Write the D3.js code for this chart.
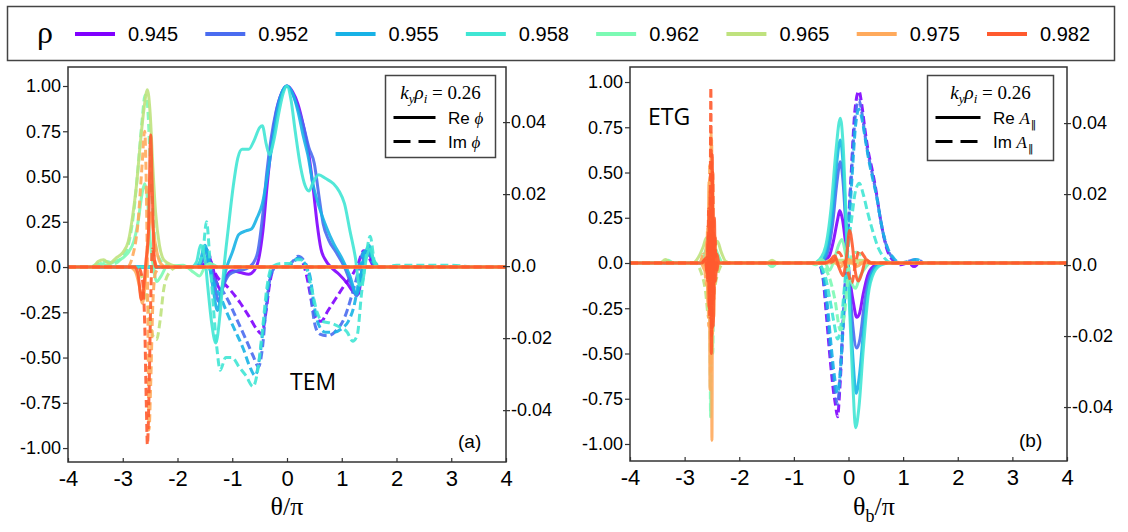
<!DOCTYPE html>
<html>
<head>
<meta charset="utf-8">
<script src="https://cdn.jsdelivr.net/npm/d3@7"></script>
<style>
  body { margin: 0; background: #fff; }
  svg { display: block; font-family: "Liberation Sans", Arial, sans-serif; }
</style>
</head>
<body>
<svg id="chart" width="1128" height="532"></svg>
<script>
// ---- data ----
var rhoLabels = ["0.945", "0.952", "0.955", "0.958", "0.962", "0.965", "0.975", "0.982"];
var rhoColors = ["#8000ff", "#4a6cf0", "#18b2e6", "#40e6d4", "#7cfab4", "#bfe27e", "#ffaa5c", "#ff5a2e"];

var xTicks = [-4, -3, -2, -1, 0, 1, 2, 3, 4];
var xTickLabels = ["-4", "-3", "-2", "-1", "0", "1", "2", "3", "4"];
var yTicksLeft = [-1, -0.75, -0.5, -0.25, 0, 0.25, 0.5, 0.75, 1];
var yTickLabelsLeft = ["-1.00", "-0.75", "-0.50", "-0.25", "0.0", "0.25", "0.50", "0.75", "1.00"];
var yTicksRight = [-0.04, -0.02, 0, 0.02, 0.04];
var yTickLabelsRight = ["-0.04", "-0.02", "0.0", "0.02", "0.04"];

// panel (a) TEM: [theta/pi, value]
var temRe945 = [[-4,0],[-1.6,0],[-1.5,0.01],[-1.43,0.06],[-1.36,0],[-1.28,-0.09],[-1.2,-0.13],[-1.12,-0.06],[-1.0,-0.02],[-0.85,-0.03],[-0.7,-0.04],[-0.6,-0.02],[-0.52,0.04],[-0.44,0.2],[-0.36,0.46],[-0.28,0.68],[-0.2,0.85],[-0.1,0.96],[0,1.0],[0.1,0.97],[0.2,0.9],[0.3,0.78],[0.4,0.62],[0.48,0.43],[0.55,0.24],[0.62,0.1],[0.7,0.04],[0.8,0],[0.95,-0.04],[1.1,-0.09],[1.22,-0.14],[1.3,-0.15],[1.37,-0.03],[1.44,0.08],[1.52,0.06],[1.6,0],[4,0]];
var temIm945 = [[-4,0],[-1.6,0],[-1.5,0.02],[-1.43,0.07],[-1.36,0],[-1.26,-0.06],[-1.15,-0.09],[-1.0,-0.14],[-0.85,-0.2],[-0.7,-0.27],[-0.56,-0.34],[-0.46,-0.37],[-0.39,-0.26],[-0.31,-0.08],[-0.22,0],[-0.05,0],[0.1,0.02],[0.2,0.05],[0.28,0.03],[0.36,-0.05],[0.45,-0.19],[0.54,-0.29],[0.62,-0.3],[0.75,-0.24],[0.9,-0.17],[1.05,-0.1],[1.2,-0.04],[1.3,0.02],[1.4,0.09],[1.5,0.05],[1.6,0],[4,0]];
var temRe952 = [[-4,0],[-1.65,0],[-1.55,0.03],[-1.48,0.1],[-1.4,0.02],[-1.32,-0.1],[-1.25,-0.19],[-1.17,-0.11],[-1.05,-0.04],[-0.9,-0.02],[-0.75,-0.01],[-0.62,0.02],[-0.53,0.09],[-0.45,0.27],[-0.37,0.52],[-0.29,0.71],[-0.2,0.86],[-0.1,0.96],[0,1.0],[0.1,0.96],[0.2,0.88],[0.3,0.78],[0.4,0.66],[0.5,0.57],[0.58,0.4],[0.66,0.24],[0.76,0.15],[0.9,0.08],[1.05,0],[1.18,-0.1],[1.27,-0.16],[1.35,-0.05],[1.42,0.08],[1.5,0.1],[1.58,0.03],[1.7,0],[4,0]];
var temIm952 = [[-4,0],[-1.65,0],[-1.55,0.03],[-1.47,0.1],[-1.4,0],[-1.3,-0.08],[-1.2,-0.12],[-1.05,-0.2],[-0.9,-0.3],[-0.75,-0.4],[-0.62,-0.49],[-0.52,-0.55],[-0.45,-0.45],[-0.38,-0.22],[-0.3,-0.05],[-0.2,0],[0,0],[0.1,0.03],[0.2,0.06],[0.3,0.04],[0.38,-0.02],[0.45,-0.2],[0.52,-0.33],[0.6,-0.37],[0.75,-0.38],[0.9,-0.35],[1.05,-0.28],[1.18,-0.16],[1.28,-0.05],[1.36,0.06],[1.45,0.1],[1.55,0.03],[1.7,0],[4,0]];
var temRe955 = [[-4,0],[-1.7,0],[-1.6,0.02],[-1.5,0.12],[-1.42,0.02],[-1.35,-0.12],[-1.27,-0.24],[-1.18,-0.1],[-1.1,0],[-1.0,0.08],[-0.88,0.18],[-0.75,0.2],[-0.65,0.21],[-0.55,0.27],[-0.45,0.35],[-0.35,0.52],[-0.25,0.72],[-0.15,0.9],[-0.07,0.98],[0,1.0],[0.1,0.96],[0.2,0.86],[0.3,0.72],[0.38,0.62],[0.48,0.45],[0.6,0.32],[0.72,0.22],[0.85,0.13],[1.0,0.05],[1.15,-0.05],[1.27,-0.15],[1.35,-0.05],[1.42,0.06],[1.5,0.12],[1.58,0.04],[1.7,0],[4,0]];
var temIm955 = [[-4,0],[-1.7,0],[-1.6,0.02],[-1.5,0.1],[-1.42,0],[-1.32,-0.1],[-1.22,-0.16],[-1.1,-0.25],[-0.95,-0.35],[-0.8,-0.45],[-0.68,-0.55],[-0.58,-0.6],[-0.5,-0.5],[-0.42,-0.3],[-0.33,-0.08],[-0.25,0],[0,0],[0.1,0.02],[0.2,0.05],[0.3,0.03],[0.42,-0.05],[0.5,-0.22],[0.58,-0.32],[0.7,-0.36],[0.85,-0.36],[1.0,-0.34],[1.12,-0.3],[1.22,-0.22],[1.32,-0.06],[1.4,0.08],[1.48,0.1],[1.58,0.02],[1.7,0],[4,0]];
var temRe958 = [[-4,0],[-1.75,0],[-1.65,0.03],[-1.58,0.12],[-1.5,0.05],[-1.45,-0.1],[-1.38,-0.3],[-1.3,-0.42],[-1.22,-0.25],[-1.15,0],[-1.07,0.22],[-0.98,0.45],[-0.9,0.6],[-0.82,0.65],[-0.7,0.65],[-0.6,0.7],[-0.5,0.77],[-0.45,0.78],[-0.38,0.68],[-0.32,0.62],[-0.24,0.7],[-0.15,0.85],[-0.07,0.96],[0,1.0],[0.07,0.93],[0.15,0.75],[0.25,0.55],[0.33,0.45],[0.4,0.42],[0.48,0.47],[0.58,0.51],[0.7,0.49],[0.85,0.46],[0.95,0.42],[1.05,0.35],[1.15,0.2],[1.25,0.05],[1.32,-0.1],[1.38,-0.08],[1.45,0.05],[1.52,0.1],[1.6,0.02],[1.7,0],[4,0]];
var temIm958 = [[-4,0],[-1.7,0],[-1.6,0.02],[-1.53,0.1],[-1.47,0.25],[-1.41,0.05],[-1.35,-0.2],[-1.28,-0.45],[-1.22,-0.57],[-1.12,-0.5],[-1.0,-0.5],[-0.88,-0.55],[-0.75,-0.6],[-0.62,-0.66],[-0.54,-0.58],[-0.45,-0.35],[-0.37,-0.12],[-0.28,0],[-0.1,0.02],[0.05,0.02],[0.15,0.04],[0.25,0.04],[0.35,0],[0.45,-0.12],[0.55,-0.25],[0.65,-0.3],[0.8,-0.31],[0.95,-0.33],[1.1,-0.36],[1.2,-0.41],[1.28,-0.38],[1.36,-0.15],[1.44,0.05],[1.52,0.17],[1.6,0.03],[1.75,0],[2.0,0.01],[2.5,0.01],[3.0,0.01],[3.5,0],[4,0]];
var temRe962 = [[-4,0],[-3.5,0],[-3.4,0.02],[-3.3,0.01],[-3.15,0.03],[-3.0,0.05],[-2.9,0.08],[-2.8,0.14],[-2.72,0.25],[-2.65,0.4],[-2.6,0.46],[-2.55,0.38],[-2.5,0.15],[-2.45,0.02],[-2.38,-0.08],[-2.3,-0.05],[-2.2,0],[-1.9,0.01],[-1.7,-0.03],[-1.6,-0.05],[-1.5,0],[-1.4,0.02],[-1.25,0],[4,0]];
var temIm962 = [[-4,0],[-3.6,0],[-3.45,0.02],[-3.3,0.03],[-3.15,0.02],[-3.0,0.06],[-2.9,0.12],[-2.8,0.3],[-2.72,0.55],[-2.65,0.8],[-2.59,0.95],[-2.55,0.9],[-2.5,0.6],[-2.45,0.3],[-2.4,0.12],[-2.32,0.04],[-2.2,0.01],[-2.0,0],[4,0]];
var temRe965 = [[-4,0],[-3.55,0],[-3.45,0.03],[-3.35,0.04],[-3.25,0.02],[-3.12,0.05],[-3.0,0.08],[-2.9,0.14],[-2.82,0.28],[-2.75,0.45],[-2.68,0.68],[-2.61,0.88],[-2.55,0.98],[-2.5,0.85],[-2.45,0.55],[-2.4,0.3],[-2.33,0.12],[-2.25,0.04],[-2.1,0.01],[-1.95,0],[4,0]];
var temIm965 = [[-4,0],[-2.8,0],[-2.7,-0.03],[-2.6,-0.1],[-2.52,-0.25],[-2.45,-0.38],[-2.38,-0.4],[-2.32,-0.3],[-2.25,-0.12],[-2.15,-0.03],[-2.0,0],[4,0]];
var temRe975 = [[-4,0],[-2.88,0],[-2.78,-0.02],[-2.7,-0.1],[-2.64,-0.2],[-2.6,-0.12],[-2.56,0.05],[-2.52,0.22],[-2.48,0.3],[-2.44,0.2],[-2.4,0.12],[-2.35,0.05],[-2.28,0.01],[-2.2,0],[4,0]];
var temIm975 = [[-4,0],[-2.92,0],[-2.82,0.06],[-2.72,0.25],[-2.65,0.55],[-2.6,0.75],[-2.57,0.45],[-2.54,-0.3],[-2.52,-0.9],[-2.49,-0.65],[-2.45,-0.2],[-2.4,-0.03],[-2.3,0],[4,0]];
var temRe982 = [[-4,0],[-2.78,0],[-2.72,-0.04],[-2.66,-0.18],[-2.62,-0.12],[-2.58,0.02],[-2.53,0.2],[-2.49,0.73],[-2.46,0.42],[-2.43,0.08],[-2.4,0],[4,0]];
var temIm982 = [[-4,0],[-2.72,0],[-2.65,-0.05],[-2.6,-0.3],[-2.57,-0.75],[-2.55,-0.98],[-2.52,-0.7],[-2.49,-0.2],[-2.46,0.1],[-2.42,0.04],[-2.38,0],[4,0]];

// panel (b) ETG
var etgRe945 = [[-4,0],[-0.6,0],[-0.45,0.01],[-0.35,0.04],[-0.27,0.13],[-0.2,0.24],[-0.16,0.29],[-0.11,0.24],[-0.05,0.1],[0.02,-0.08],[0.09,-0.22],[0.15,-0.3],[0.2,-0.28],[0.27,-0.17],[0.35,-0.07],[0.45,-0.02],[0.6,0],[4,0]];
var etgIm945 = [[-4,0],[-0.62,0],[-0.53,-0.01],[-0.46,-0.1],[-0.41,-0.27],[-0.33,-0.55],[-0.27,-0.72],[-0.24,-0.78],[-0.2,-0.85],[-0.16,-0.7],[-0.1,-0.35],[-0.03,0.05],[0.05,0.5],[0.12,0.85],[0.19,0.95],[0.25,0.86],[0.3,0.74],[0.36,0.62],[0.43,0.52],[0.51,0.39],[0.57,0.27],[0.63,0.17],[0.7,0.08],[0.8,0.02],[0.95,-0.01],[1.1,0],[1.2,-0.02],[1.3,0],[4,0]];
var etgRe952 = [[-4,0],[-0.6,0],[-0.48,0.01],[-0.38,0.06],[-0.29,0.22],[-0.21,0.45],[-0.15,0.56],[-0.1,0.45],[-0.04,0.15],[0.02,-0.12],[0.08,-0.35],[0.15,-0.47],[0.21,-0.42],[0.28,-0.25],[0.36,-0.1],[0.46,-0.03],[0.6,0],[4,0]];
var etgIm952 = [[-4,0],[-0.62,0],[-0.53,-0.01],[-0.46,-0.09],[-0.4,-0.25],[-0.33,-0.5],[-0.27,-0.66],[-0.2,-0.78],[-0.16,-0.65],[-0.1,-0.32],[-0.03,0.05],[0.05,0.47],[0.12,0.8],[0.19,0.9],[0.25,0.82],[0.3,0.71],[0.36,0.6],[0.43,0.5],[0.51,0.38],[0.57,0.27],[0.63,0.17],[0.7,0.09],[0.8,0.03],[0.95,0],[1.1,0.01],[1.25,0.02],[1.4,0],[4,0]];
var etgRe955 = [[-4,0],[-0.62,0],[-0.5,0.01],[-0.4,0.07],[-0.3,0.26],[-0.22,0.54],[-0.15,0.68],[-0.1,0.55],[-0.04,0.18],[0.02,-0.2],[0.08,-0.52],[0.14,-0.72],[0.2,-0.62],[0.28,-0.36],[0.37,-0.13],[0.48,-0.03],[0.62,0],[4,0]];
var etgIm955 = [[-4,0],[-0.6,0],[-0.52,-0.01],[-0.45,-0.08],[-0.39,-0.22],[-0.32,-0.45],[-0.26,-0.62],[-0.2,-0.72],[-0.15,-0.6],[-0.09,-0.3],[-0.02,0.05],[0.06,0.45],[0.13,0.76],[0.19,0.85],[0.25,0.79],[0.31,0.68],[0.37,0.57],[0.44,0.47],[0.52,0.36],[0.58,0.25],[0.64,0.16],[0.72,0.08],[0.82,0.03],[0.95,0],[1.1,0.01],[1.25,0.02],[1.4,0],[4,0]];
var etgRe958 = [[-4,0],[-0.65,0],[-0.53,0.02],[-0.42,0.09],[-0.32,0.3],[-0.23,0.62],[-0.15,0.8],[-0.1,0.66],[-0.04,0.22],[0.02,-0.26],[0.08,-0.67],[0.13,-0.91],[0.19,-0.8],[0.27,-0.48],[0.36,-0.18],[0.47,-0.05],[0.6,-0.01],[0.75,0],[4,0]];
var etgIm958 = [[-4,0],[-0.6,0],[-0.5,-0.02],[-0.42,-0.08],[-0.34,-0.2],[-0.26,-0.34],[-0.2,-0.42],[-0.14,-0.35],[-0.08,-0.15],[-0.02,0.05],[0.06,0.25],[0.13,0.4],[0.2,0.44],[0.27,0.38],[0.35,0.28],[0.45,0.17],[0.55,0.08],[0.65,0.03],[0.8,0],[4,0]];
var etgRe962 = [[-4,0],[-3.4,0],[-3.3,0.015],[-3.2,0],[-2.75,0],[-2.65,0.04],[-2.58,0.1],[-2.52,0.14],[-2.46,0.1],[-2.38,0.04],[-2.3,0],[-1.5,0],[-1.4,-0.02],[-1.3,0],[-0.7,0],[-0.6,-0.01],[-0.5,0.02],[-0.42,0],[-0.35,-0.04],[-0.26,0.02],[-0.18,0.1],[-0.12,0.13],[-0.06,0.06],[0,-0.05],[0.07,-0.12],[0.13,-0.14],[0.2,-0.08],[0.3,-0.03],[0.4,0],[4,0]];
var etgIm962 = [[-4,0],[-2.64,0],[-2.59,0.08],[-2.565,-0.2],[-2.545,0.32],[-2.525,-0.85],[-2.505,0.42],[-2.485,-0.5],[-2.465,0.12],[-2.44,-0.05],[-2.4,0],[-0.55,0],[-0.45,-0.02],[-0.35,-0.08],[-0.25,-0.2],[-0.15,-0.37],[-0.08,-0.3],[0,-0.05],[0.08,0.05],[0.15,0.06],[0.3,0.02],[0.45,0],[4,0]];
var etgRe965 = [[-4,0],[-3.45,0],[-3.35,0.02],[-3.25,0],[-2.85,0],[-2.75,0.03],[-2.66,0.09],[-2.6,0.14],[-2.55,0.1],[-2.5,-0.05],[-2.45,0.08],[-2.4,0.12],[-2.33,0.06],[-2.25,0.01],[-2.15,0],[-1.5,0],[-1.4,0.015],[-1.3,0],[-0.45,0],[-0.35,0.015],[-0.2,0.015],[0,0.015],[0.2,0.015],[0.35,0.01],[0.45,0],[4,0]];
var etgIm965 = [[-4,0],[-2.8,0],[-2.7,-0.05],[-2.62,-0.15],[-2.56,-0.3],[-2.5,-0.25],[-2.44,-0.12],[-2.36,-0.03],[-2.28,0],[4,0]];
var etgRe975 = [[-4,0],[-2.7,0],[-2.63,-0.04],[-2.595,0.12],[-2.575,-0.22],[-2.555,0.45],[-2.535,-0.7],[-2.515,0.72],[-2.5,-0.98],[-2.485,0.5],[-2.465,-0.3],[-2.445,0.15],[-2.42,-0.05],[-2.38,0],[-0.4,0],[-0.3,0.02],[-0.15,-0.02],[0,0.02],[0.15,-0.02],[0.3,0.01],[0.4,0],[4,0]];
var etgIm975 = [[-4,0],[-2.72,0],[-2.66,0.05],[-2.6,-0.12],[-2.58,0.2],[-2.56,-0.35],[-2.54,0.55],[-2.52,-0.6],[-2.505,0.68],[-2.49,-0.4],[-2.47,0.25],[-2.45,-0.12],[-2.42,0.04],[-2.38,0],[4,0]];
var etgRe982 = [[-4,0],[-2.7,0],[-2.62,0.02],[-2.59,-0.06],[-2.57,0.15],[-2.55,-0.25],[-2.53,0.4],[-2.51,-0.5],[-2.495,0.6],[-2.475,-0.35],[-2.455,0.25],[-2.435,-0.1],[-2.41,0.05],[-2.37,0],[-0.45,0],[-0.35,0.01],[-0.25,0.04],[-0.18,-0.02],[-0.1,-0.07],[-0.03,0.05],[0.02,0.18],[0.07,0.1],[0.12,-0.04],[0.18,-0.1],[0.25,-0.05],[0.32,0.02],[0.42,0],[4,0]];
var etgIm982 = [[-4,0],[-2.68,0],[-2.6,0.03],[-2.58,-0.1],[-2.56,0.3],[-2.54,-0.3],[-2.52,0.97],[-2.505,-0.4],[-2.485,0.5],[-2.465,-0.2],[-2.445,0.15],[-2.42,-0.05],[-2.38,0],[-0.35,0],[-0.25,0.02],[-0.18,0.06],[-0.1,0.02],[-0.02,-0.04],[0.06,-0.11],[0.13,0],[0.2,0.07],[0.28,0.04],[0.38,0],[4,0]];

// re/im pairs in rho order
var temCurves = [[temRe945, temIm945], [temRe952, temIm952], [temRe955, temIm955], [temRe958, temIm958],
                 [temRe962, temIm962], [temRe965, temIm965], [temRe975, temIm975], [temRe982, temIm982]];
var etgCurves = [[etgRe945, etgIm945], [etgRe952, etgIm952], [etgRe955, etgIm955], [etgRe958, etgIm958],
                 [etgRe962, etgIm962], [etgRe965, etgIm965], [etgRe975, etgIm975], [etgRe982, etgIm982]];

var svg = d3.select("#chart");

// ---- top legend ----
var legend = svg.append("g");
legend.append("rect")
    .attr("x", 7.5).attr("y", 6.5).attr("width", 1107).attr("height", 54)
    .attr("fill", "#fff").attr("stroke", "#444").attr("stroke-width", 1.5);
legend.append("text")
    .attr("x", 37).attr("y", 43)
    .style("font-family", "'Liberation Serif', serif").style("font-size", "32px")
    .text("ρ");

var legendX = d3.scalePoint().domain(rhoLabels).range([75, 987]);
var items = legend.selectAll(".item")
    .data(rhoLabels).enter()
    .append("g")
    .attr("transform", d => "translate(" + legendX(d) + ",34)");
items.append("line")
    .attr("x1", 0).attr("x2", 40)
    .attr("stroke", (d, i) => rhoColors[i])
    .attr("stroke-width", 4);
items.append("text")
    .attr("x", 53).attr("y", 7)
    .style("font-size", "20px")
    .text(d => d);

// ---- one panel ----
function buildPanel(opts){
    var x = d3.scaleLinear().domain([-4, 4]).range([opts.left, opts.right]);
    var y = d3.scaleLinear().domain(opts.yDomain).range([opts.bottom, opts.top]);
    var yR = d3.scaleLinear().domain(opts.yRDomain).range([opts.bottom, opts.top]);

    var g = svg.append("g");

    g.append("clipPath").attr("id", opts.id + "-clip")
        .append("rect")
        .attr("x", opts.left).attr("y", opts.top)
        .attr("width", opts.right - opts.left).attr("height", opts.bottom - opts.top);

    var line = d3.line()
        .x(d => x(d[0]))
        .y(d => y(d[1]))
        .curve(d3.curveMonotoneX);

    // curves, purple first so red ends on top
    var plot = g.append("g").attr("clip-path", "url(#" + opts.id + "-clip)");
    opts.curves.forEach((pair, i) => {
        plot.append("path")
            .attr("d", line(pair[0]))
            .attr("fill", "none")
            .attr("stroke", rhoColors[i])
            .attr("stroke-width", 3)
            .attr("stroke-opacity", 0.9)
            .attr("stroke-linejoin", "round");
        plot.append("path")
            .attr("d", line(pair[1]))
            .attr("fill", "none")
            .attr("stroke", rhoColors[i])
            .attr("stroke-width", 3)
            .attr("stroke-opacity", 0.9)
            .attr("stroke-dasharray", "8,4");
    });

    // axes
    var axL = g.append("g").attr("transform", "translate(" + opts.left + ",0)")
        .call(d3.axisLeft(y).tickValues(yTicksLeft).tickFormat((d, i) => yTickLabelsLeft[i]).tickSize(5).tickPadding(2));
    var axR = g.append("g").attr("transform", "translate(" + opts.right + ",0)")
        .call(d3.axisRight(yR).tickValues(yTicksRight).tickFormat((d, i) => yTickLabelsRight[i]).tickSize(4).tickPadding(1));
    axR.selectAll(".tick line").attr("x1", -3);
    var axB = g.append("g").attr("transform", "translate(0," + opts.bottom + ")")
        .call(d3.axisBottom(x).tickValues(xTicks).tickFormat((d, i) => xTickLabels[i]).tickSize(-4).tickPadding(8));

    [axL, axR, axB].forEach(a => {
        a.select(".domain").remove();
        a.selectAll(".tick line").attr("stroke", "#333").attr("stroke-width", 1.2);
        a.selectAll("text").attr("fill", "#000").style("font-family", "'Liberation Sans', Arial, sans-serif");
    });
    axL.selectAll("text").style("font-size", "18px");
    axR.selectAll("text").style("font-size", "18px");
    axB.selectAll("text").style("font-size", "22px");

    // frame
    g.append("rect")
        .attr("x", opts.left).attr("y", opts.top)
        .attr("width", opts.right - opts.left).attr("height", opts.bottom - opts.top)
        .attr("fill", "none").attr("stroke", "#333").attr("stroke-width", 1.5);

    // inset legend
    var b = opts.box;
    var ins = g.append("g");
    ins.append("rect")
        .attr("x", b.x).attr("y", b.y).attr("width", b.w).attr("height", b.h)
        .attr("fill", "#fff").attr("stroke", "#444").attr("stroke-width", 1.5);
    var kt = ins.append("text")
        .attr("x", b.x + b.w / 2).attr("y", b.y + 23)
        .attr("text-anchor", "middle")
        .style("font-family", "'Liberation Serif', serif").style("font-size", "19px");
    kt.append("tspan").style("font-style", "italic").text("k");
    kt.append("tspan").style("font-style", "italic").style("font-size", "13px").attr("dy", 4).text("y");
    kt.append("tspan").style("font-style", "italic").attr("dy", -4).text("ρ");
    kt.append("tspan").style("font-style", "italic").style("font-size", "13px").attr("dy", 4).text("i");
    kt.append("tspan").attr("dy", -4).text(" = 0.26");

    ins.append("line")
        .attr("x1", b.x + 8).attr("x2", b.x + b.lineW).attr("y1", b.y + 42).attr("y2", b.y + 42)
        .attr("stroke", "#000").attr("stroke-width", 3);
    ins.append("line")
        .attr("x1", b.x + 8).attr("x2", b.x + b.lineW).attr("y1", b.y + 66).attr("y2", b.y + 66)
        .attr("stroke", "#000").attr("stroke-width", 3)
        .attr("stroke-dasharray", "17,8");

    [["Re", b.y + 48], ["Im", b.y + 72]].forEach(r => {
        var t = ins.append("text").attr("x", b.textX).attr("y", r[1]).style("font-size", "17px");
        t.append("tspan").text(r[0] + " ");
        if(opts.field == "phi"){
            t.append("tspan").style("font-family", "'Liberation Serif', serif").style("font-style", "italic").text("ϕ");
        } else {
            t.append("tspan").style("font-family", "'Liberation Serif', serif").style("font-style", "italic").text("A");
            // parallel sign as a small subscript (plain bars, avoids emoji fallback)
            t.append("tspan").style("font-family", "'DejaVu Sans', sans-serif").style("font-size", "11px")
                .attr("dy", 4).attr("dx", 1).text("‖");
        }
    });

    // mode label and panel letter
    g.append("text")
        .attr("x", opts.mode.x).attr("y", opts.mode.y)
        .style("font-family", "'Open Sans', sans-serif").style("font-size", "23px")
        .text(opts.mode.text);
    g.append("text")
        .attr("x", opts.right - 48).attr("y", opts.bottom - 14)
        .style("font-size", "19px")
        .text(opts.letter);

    // x label
    var xl = g.append("text")
        .attr("x", opts.xLabelX).attr("y", 515)
        .attr("text-anchor", opts.xLabelAnchor)
        .style("font-family", "'Liberation Serif', serif").style("font-size", "26px");
    xl.append("tspan").text("θ");
    if(opts.sub){
        xl.append("tspan").style("font-size", "18px").attr("dy", 7).text(opts.sub);
        xl.append("tspan").attr("dy", -7).text("/π");
    } else {
        xl.append("tspan").text("/π");
    }
}

buildPanel({
    id: "tem", left: 68, right: 506, top: 67, bottom: 462,
    yDomain: [-1.077, 1.105], yRDomain: [-0.0544, 0.0553],
    curves: temCurves, field: "phi",
    box: {x: 385.5, y: 75.5, w: 110, h: 82, lineW: 50, textX: 448},
    mode: {text: "TEM", x: 290, y: 390}, letter: "(a)",
    xLabelX: 287, xLabelAnchor: "middle", sub: null
});

buildPanel({
    id: "etg", left: 630, right: 1067, top: 67, bottom: 461,
    yDomain: [-1.094, 1.083], yRDomain: [-0.0552, 0.0558],
    curves: etgCurves, field: "A",
    box: {x: 927.5, y: 75.5, w: 126, h: 85, lineW: 53, textX: 993},
    mode: {text: "ETG", x: 648, y: 125}, letter: "(b)",
    xLabelX: 853, xLabelAnchor: "start", sub: "b"
});
</script>
</body>
</html>
